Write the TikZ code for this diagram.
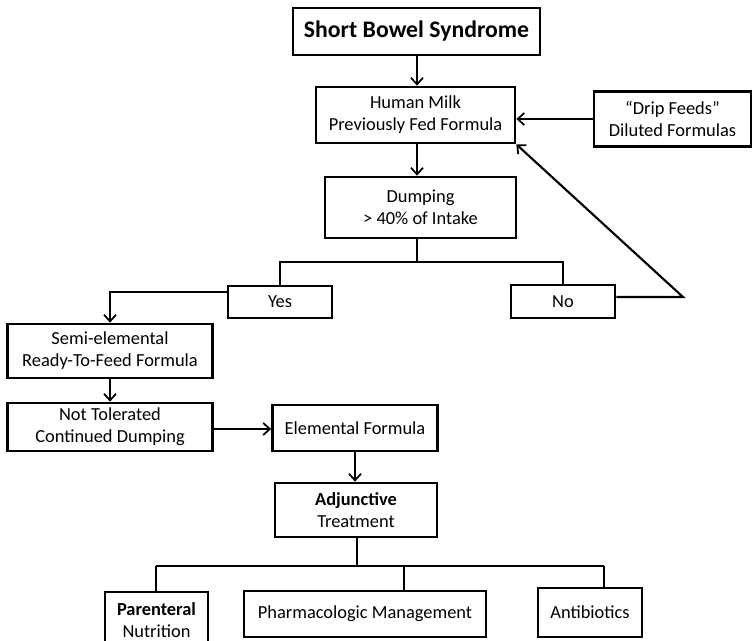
\documentclass[tikz,border=0pt]{standalone}
\usepackage{fontspec}
\setmainfont{Carlito}
\usetikzlibrary{arrows.meta}

\tikzset{every picture/.style={line width=0.75pt}}
\tikzset{
  box/.style={draw, line width=2pt, inner sep=0pt, align=center, font=\fontsize{13.8}{16.5}\selectfont},
  wh/.style 2 args={minimum width=#1*0.75pt, minimum height=#2*0.75pt},
  link/.style={line width=1.6pt},
  arr/.style={link, -{Straight Barb[length=5pt,width=9pt,line width=1.3pt]}}
}

\begin{document}
\begin{tikzpicture}[x=0.75pt,y=0.75pt,yscale=-1,xscale=1]
		\useasboundingbox (0,0) rectangle (752,640);

		\node [box, wh={247}{47}, font=\fontsize{17.8}{20}\selectfont\bfseries] (sbs) at (416.5,31.5) {Short Bowel Syndrome};
		\node [box, wh={199}{56}] (milk) at (415.5,115) {Human Milk\\Previously Fed Formula};
		\node [box, wh={157}{55}] (drip) at (672.5,119) {“Drip Feeds”\\Diluted Formulas};
		\node [box, wh={191}{61}] (dump) at (420.5,207.5) {Dumping\\> 40\% of Intake};

		\node [box, wh={104}{32}] (yes) at (280,302) {Yes};
		\node [box, wh={104}{33}] (no) at (563,301.5) {No};

		\node [box, wh={205}{54}] (semi) at (110,351) {Semi-elemental\\Ready-To-Feed Formula};
		\node [box, wh={205}{48}] (nottol) at (110,427) {Not Tolerated\\Continued Dumping};
		\node [box, wh={165}{46}] (elem) at (355,428) {Elemental Formula};
		\node [box, wh={162}{54}] (adj) at (356,510) {\textbf{Adjunctive}\\Treatment};

		\node [box, wh={103}{56}] (paren) at (156.5,620) {\textbf{Parenteral}\\Nutrition};
		\node [box, wh={242}{46}] (pharm) at (365,614) {Pharmacologic Management};
		\node [box, wh={104}{49}] (anti) at (590,612.5) {Antibiotics};

		% turning points
		\coordinate (dsplit) at (417,262);
		\coordinate (noturn) at (683,297);
		\coordinate (yesturn) at (110,292);
		\coordinate (asplit) at (357,566);
		\coordinate (tparen) at (156,566);
		\coordinate (tpharm) at (404,566);
		\coordinate (tanti) at (604,566);

		\draw [arr] (sbs.south -| 417,0) -- (milk.north -| 417,0);
		\draw [arr] (drip.west) -- (drip.west -| milk.east);
		\draw [arr] (milk.south -| 417,0) -- (dump.north -| 417,0);

		\draw [link] (dump.south -| dsplit) -- (dsplit);
		\draw [link] (yes.north) |- (dsplit) -| (no.north);
		\draw [arr] (noturn -| no.east) -- (noturn) -- (milk.south east);
		\draw [arr] (yesturn -| yes.west) -- (yesturn) -- (semi.north -| yesturn);

		\draw [arr] (semi.south) -- (nottol.north);
		\draw [arr] (nottol.east |- 0,429) -- (elem.west |- 0,429);
		\draw [arr] (elem.south) -- (adj.north -| elem.south);

		\draw [link] (adj.south -| asplit) -- (asplit);
		\draw [link] (tparen) -- (tanti);
		\draw [link] (tparen) -- (tparen |- paren.north);
		\draw [link] (tpharm) -- (tpharm |- pharm.north);
		\draw [link] (tanti) -- (tanti |- anti.north);

		\end{tikzpicture}
\end{document}
